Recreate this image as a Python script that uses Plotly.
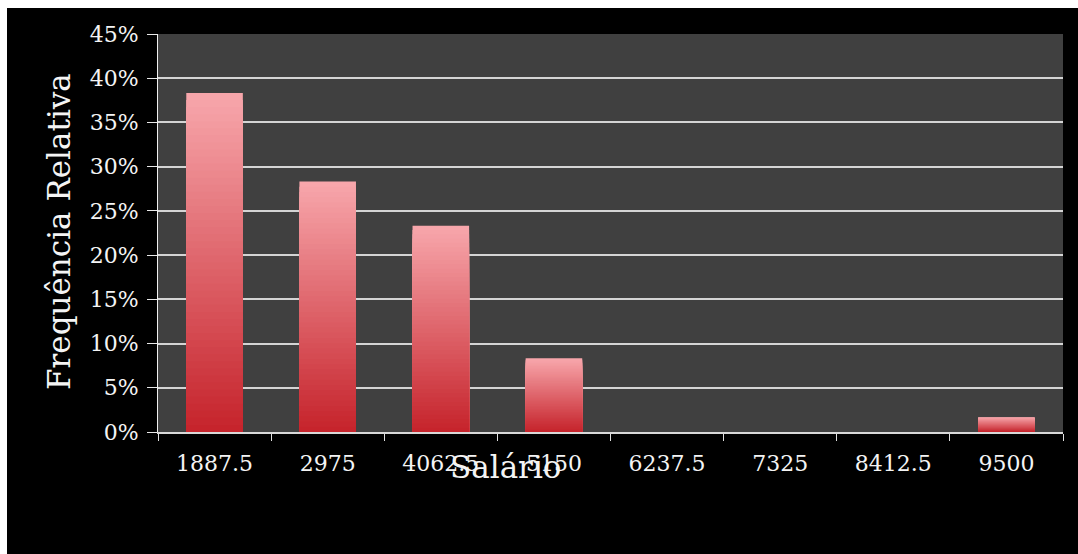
import plotly.graph_objects as go

categories = ["1887.5", "2975", "4062.5", "5150", "6237.5", "7325", "8412.5", "9500"]
rel_freq = [0.3833, 0.2833, 0.2333, 0.0833, 0.0, 0.0, 0.0, 0.0167]
y_ticks = [0, 0.05, 0.10, 0.15, 0.20, 0.25, 0.30, 0.35, 0.40, 0.45]
y_tick_labels = ["0%", "5%", "10%", "15%", "20%", "25%", "30%", "35%", "40%", "45%"]

W, H = 1078, 554
L, R, T, B = 158, 15, 34, 122
pw, ph = W - L - R, H - T - B

top_rgb = (247, 166, 171)
bot_rgb = (198, 36, 44)
N = 48

fig = go.Figure()
# gradient: overlay successively shorter bars, each darker
for k in range(N):
    frac = (N - k) / N            # height fraction of this layer
    t = k / (N - 1)               # 0 -> top colour, 1 -> bottom colour
    c = tuple(round(top_rgb[i] + (bot_rgb[i] - top_rgb[i]) * t) for i in range(3))
    fig.add_trace(go.Bar(
        x=categories,
        y=[v * frac for v in rel_freq],
        width=0.5,
        marker=dict(color="rgb(%d,%d,%d)" % c, line=dict(width=0)),
        showlegend=False,
        hoverinfo="skip",
    ))

tick_font = dict(family="DejaVu Serif", size=22, color="#f4f4f4")

fig.update_layout(
    width=W, height=H,
    margin=dict(l=L, r=R, t=T, b=B, pad=0),
    paper_bgcolor="black",
    plot_bgcolor="#404040",
    barmode="overlay",
    bargap=0.5,
    xaxis=dict(
        type="category",
        tickson="boundaries",
        ticks="outside", ticklen=7, tickcolor="#e0e0e0", tickwidth=1,
        showline=True, linecolor="#d8d8d8", linewidth=2,
        showgrid=False, zeroline=False,
        tickfont=tick_font,
        ticklabelstandoff=11,
    ),
    yaxis=dict(
        range=[0, 0.45],
        tickvals=y_ticks, ticktext=y_tick_labels,
        ticks="outside", ticklen=10, tickcolor="#e8e8e8", tickwidth=1,
        showline=True, linecolor="#f0f0f0", linewidth=1,
        showgrid=True, gridcolor="#d4d4d4", gridwidth=2,
        zeroline=False,
        tickfont=tick_font,
        ticklabelstandoff=4,
    ),
    annotations=[
        dict(text="Salário", xref="paper", yref="paper",
             x=(506 - L) / pw, y=(H - B - 467) / ph,
             xanchor="center", yanchor="middle", showarrow=False,
             font=dict(family="DejaVu Serif", size=31, color="#f4f4f4")),
        dict(text="Frequência Relativa", xref="paper", yref="paper",
             x=(59 - L) / pw, y=(H - B - 232) / ph, textangle=-90,
             xanchor="center", yanchor="middle", showarrow=False,
             font=dict(family="DejaVu Serif", size=31, color="#f4f4f4")),
    ],
    shapes=[
        dict(type="rect", xref="paper", yref="paper",
             x0=(0 - L) / pw, x1=(W - L) / pw,
             y0=(H - B - 0) / ph, y1=(H - B - 8) / ph,
             fillcolor="white", line=dict(width=0), layer="above"),
        dict(type="rect", xref="paper", yref="paper",
             x0=(0 - L) / pw, x1=(7 - L) / pw,
             y0=(H - B - 0) / ph, y1=(H - B - H) / ph,
             fillcolor="white", line=dict(width=0), layer="above"),
    ],
)

fig.write_html("out.html")
